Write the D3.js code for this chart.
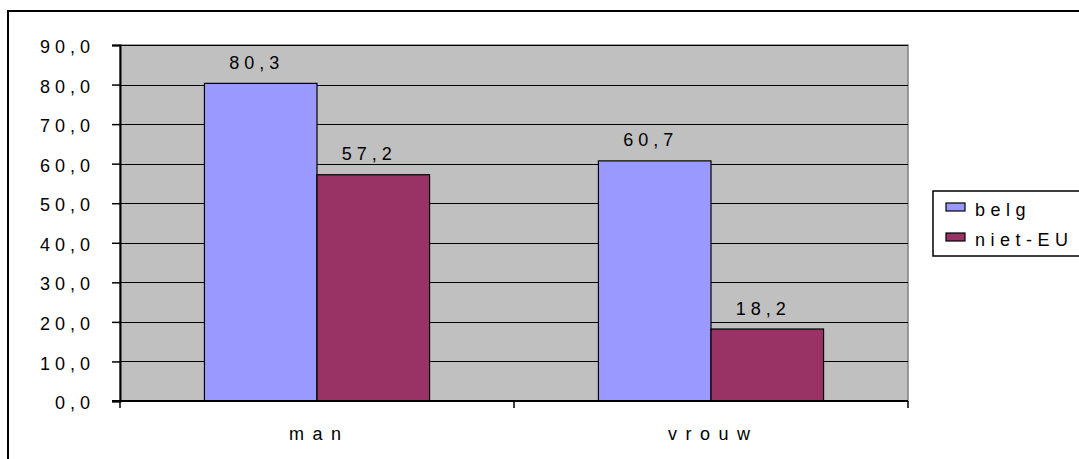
<!DOCTYPE html>
<html>
<head>
<meta charset="utf-8">
<script src="https://cdn.jsdelivr.net/npm/d3@7"></script>
<style>
  html, body { margin: 0; padding: 0; background: #fff; }
  svg { display: block; }
  text { font-family: "Liberation Sans", Arial, sans-serif; fill: #000; }
</style>
</head>
<body>
<svg id="chart" width="1079" height="459"></svg>
<script>
// Werkzaamheidsgraad naar geslacht en nationaliteit
const categories = ["man", "vrouw"];
const seriesNames = ["belg", "niet-EU"];
const belgValues = [80.3, 60.7];
const nietEUValues = [57.2, 18.2];
const yTicks = [0, 10, 20, 30, 40, 50, 60, 70, 80, 90];
const seriesColors = ["#9999FF", "#993366"];

const seriesValues = [belgValues, nietEUValues];
const fmt = v => v.toFixed(1).replace(".", ",");

const svg = d3.select("#chart");
const FS = 18;           // base font size
const LS = 5;            // letter spacing for numbers
const LS_CAT = 8.5;      // letter spacing for category names
const LS_LEG = 5.5;      // letter spacing for legend entries

const plot = { left: 120, right: 908, top: 45, bottom: 401 };

const x0 = d3.scaleBand().domain(categories).range([plot.left, plot.right]).padding(0);
const x1 = d3.scaleBand().domain(seriesNames).range([0, x0.bandwidth()])
  .paddingInner(0).paddingOuter(0.75);
const y = d3.scaleLinear().domain([0, 90]).range([plot.bottom, plot.top]);

// outer frame
svg.append("rect")
  .attr("x", 8).attr("y", 11).attr("width", 1100).attr("height", 470)
  .attr("fill", "none").attr("stroke", "#000").attr("stroke-width", 2);

// plot background
svg.append("rect")
  .attr("x", plot.left).attr("y", plot.top)
  .attr("width", plot.right - plot.left).attr("height", plot.bottom - plot.top)
  .attr("fill", "#C0C0C0").attr("stroke", "#808080").attr("stroke-width", 1.5);

// horizontal gridlines
svg.append("g").selectAll("line").data(yTicks.filter(t => t > 0)).join("line")
  .attr("x1", plot.left).attr("x2", plot.right)
  .attr("y1", d => Math.round(y(d)) + 0.5).attr("y2", d => Math.round(y(d)) + 0.5)
  .attr("stroke", "#000").attr("stroke-width", 1);

// bars
const groups = svg.append("g").selectAll("g").data(categories).join("g")
  .attr("transform", c => `translate(${x0(c)},0)`);
groups.selectAll("rect")
  .data((c, i) => seriesNames.map((s, j) => ({ s, v: seriesValues[j][i], j })))
  .join("rect")
  .attr("x", d => x1(d.s)).attr("width", x1.bandwidth())
  .attr("y", d => y(d.v)).attr("height", d => y(0) - y(d.v))
  .attr("fill", d => seriesColors[d.j])
  .attr("stroke", "#000").attr("stroke-width", 1.2);

// value labels
groups.selectAll("text.val")
  .data((c, i) => seriesNames.map((s, j) => ({ s, v: seriesValues[j][i] })))
  .join("text").attr("class", "val")
  .attr("x", d => x1(d.s) + x1.bandwidth() / 2 - 4)
  .attr("y", d => y(d.v) - 14.5)
  .attr("text-anchor", "middle")
  .attr("font-size", FS).attr("letter-spacing", LS)
  .text(d => fmt(d.v));

// y axis
const yAxis = d3.axisLeft(y).tickValues(yTicks).tickSize(8).tickFormat(fmt).tickPadding(0);
const gy = svg.append("g").attr("transform", `translate(${plot.left},0)`).call(yAxis);
gy.select(".domain").attr("stroke", "#000").attr("stroke-width", 2);
gy.selectAll(".tick line").attr("stroke", "#000").attr("stroke-width", 1.5);
gy.selectAll(".tick text")
  .attr("x", -30 + LS).attr("dy", "0.42em")
  .attr("font-size", FS).attr("letter-spacing", LS)
  .attr("fill", "#000").style("font-family", "'Liberation Sans', Arial, sans-serif");

// x axis with ticks at category boundaries
const xAxisLine = svg.append("g");
xAxisLine.append("line")
  .attr("x1", plot.left - 8).attr("x2", plot.right)
  .attr("y1", plot.bottom).attr("y2", plot.bottom)
  .attr("stroke", "#000").attr("stroke-width", 2);
const bounds = categories.map(c => x0(c)).concat([x0(categories[categories.length - 1]) + x0.bandwidth()]);
xAxisLine.selectAll("line.tk").data(bounds).join("line").attr("class", "tk")
  .attr("x1", d => d).attr("x2", d => d)
  .attr("y1", plot.bottom).attr("y2", plot.bottom + 7)
  .attr("stroke", "#000").attr("stroke-width", 1.5);
xAxisLine.selectAll("text").data(categories).join("text")
  .attr("x", c => x0(c) + x0.bandwidth() / 2 + LS_CAT / 2 - 2)
  .attr("y", 440)
  .attr("text-anchor", "middle")
  .attr("font-size", FS).attr("letter-spacing", LS_CAT)
  .text(c => c);

// legend
const legend = svg.append("g");
legend.append("rect")
  .attr("x", 933).attr("y", 191).attr("width", 200).attr("height", 65)
  .attr("fill", "#fff").attr("stroke", "#000").attr("stroke-width", 1.5);
const li = legend.selectAll("g").data(seriesNames).join("g")
  .attr("transform", (d, i) => `translate(946,${203 + i * 30})`);
li.append("rect").attr("width", 19).attr("height", 8)
  .attr("fill", (d, i) => seriesColors[i]).attr("stroke", "#000").attr("stroke-width", 1.2);
li.append("text").attr("x", 29).attr("y", 13)
  .attr("font-size", FS).attr("letter-spacing", LS_LEG)
  .text(d => d);
</script>
</body>
</html>
